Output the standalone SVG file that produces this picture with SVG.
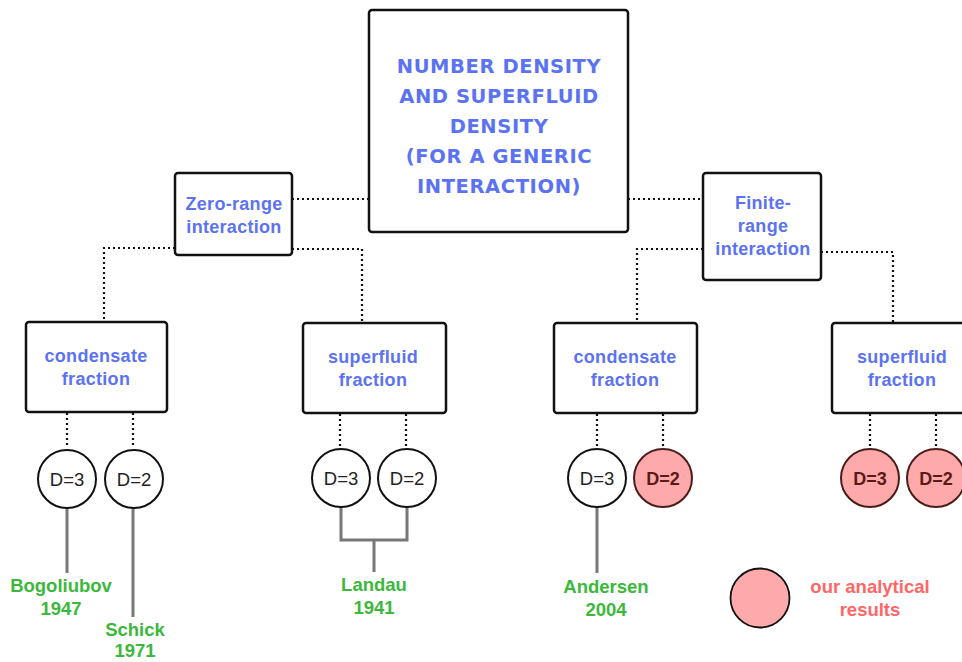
<svg xmlns="http://www.w3.org/2000/svg" width="962" height="662" viewBox="0 0 962 662">
<style>
.box{fill:#fff;stroke:#111;stroke-width:2.5}
.title{font-family:"DejaVu Sans","Liberation Sans",sans-serif;font-weight:bold;font-size:19.5px;fill:#5b73f2;text-anchor:middle;letter-spacing:0.6px}
.lbl{font-family:"Liberation Sans",Arial,sans-serif;font-weight:bold;font-size:18px;fill:#5b73f2;text-anchor:middle;letter-spacing:0.3px}
.dot{fill:none;stroke:#111;stroke-width:2.2;stroke-dasharray:2 3}
.cw{fill:#fff;stroke:#111;stroke-width:2}
.cp{fill:#ffaaaa;stroke:#4a1c1c;stroke-width:2}
.dt{font-family:"Liberation Sans",Arial,sans-serif;font-size:18.5px;fill:#222;text-anchor:middle}
.dp{font-family:"Liberation Sans",Arial,sans-serif;font-weight:bold;font-size:18px;fill:#5a1a1a;text-anchor:middle}
.gl{fill:none;stroke:#777;stroke-width:3}
.green{font-family:"Liberation Sans",Arial,sans-serif;font-weight:bold;font-size:18.5px;fill:#3cb83c;text-anchor:middle}
.red{font-family:"Liberation Sans",Arial,sans-serif;font-weight:bold;font-size:18.5px;fill:#ff6666;text-anchor:middle}
</style>
<rect width="962" height="662" fill="#fff"/>
<g id="connectors">
<path class="dot" d="M292 199H369"/>
<path class="dot" d="M628 199H703"/>
<path class="dot" d="M175 248H104V322"/>
<path class="dot" d="M292 249H362V322"/>
<path class="dot" d="M703 249H637V322"/>
<path class="dot" d="M821 252H893V322"/>
<path class="dot" d="M67 413V448M133 413V448"/>
<path class="dot" d="M340 414V448M406 414V448"/>
<path class="dot" d="M597 414V448M663 414V448"/>
<path class="dot" d="M870 414V448M936 414V448"/>
<path class="gl" d="M67 508V573"/>
<path class="gl" d="M133 508V617"/>
<path class="gl" d="M341 507V540H407V507M374 540V572"/>
<path class="gl" d="M597 507V573"/>
</g>
<g id="main">
<rect class="box" x="369" y="10" width="259" height="222" rx="3"/>
<text class="title" x="499" y="73">NUMBER DENSITY</text>
<text class="title" x="499" y="103">AND SUPERFLUID</text>
<text class="title" x="499" y="133">DENSITY</text>
<text class="title" x="499" y="163">(FOR A GENERIC</text>
<text class="title" x="499" y="193">INTERACTION)</text>
</g>
<g id="zero-range">
<rect class="box" x="175" y="173" width="117" height="82" rx="3"/>
<text class="lbl" x="234" y="210">Zero-range</text>
<text class="lbl" x="234" y="233">interaction</text>
</g>
<g id="finite-range">
<rect class="box" x="703" y="173" width="118" height="107" rx="3"/>
<text class="lbl" x="763" y="209">Finite-</text>
<text class="lbl" x="763" y="232">range</text>
<text class="lbl" x="763" y="255">interaction</text>
</g>
<g id="condensate-1">
<rect class="box" x="26" y="322" width="141" height="90" rx="3"/>
<text class="lbl" x="96" y="362">condensate</text>
<text class="lbl" x="96" y="385">fraction</text>
</g>
<g id="superfluid-1">
<rect class="box" x="303" y="323" width="143" height="90" rx="3"/>
<text class="lbl" x="373" y="363">superfluid</text>
<text class="lbl" x="373" y="386">fraction</text>
</g>
<g id="condensate-2">
<rect class="box" x="554" y="323" width="143" height="90" rx="3"/>
<text class="lbl" x="625" y="363">condensate</text>
<text class="lbl" x="625" y="386">fraction</text>
</g>
<g id="superfluid-2">
<rect class="box" x="832" y="323" width="143" height="90" rx="3"/>
<text class="lbl" x="902" y="363">superfluid</text>
<text class="lbl" x="902" y="386">fraction</text>
</g>
<g id="c1-d3"><circle class="cw" cx="67" cy="479" r="29"/><text class="dt" x="67" y="486">D=3</text></g>
<g id="c1-d2"><circle class="cw" cx="134" cy="479" r="29"/><text class="dt" x="134" y="486">D=2</text></g>
<g id="s1-d3"><circle class="cw" cx="341" cy="478" r="29"/><text class="dt" x="341" y="485">D=3</text></g>
<g id="s1-d2"><circle class="cw" cx="407" cy="478" r="29"/><text class="dt" x="407" y="485">D=2</text></g>
<g id="c2-d3"><circle class="cw" cx="597" cy="478" r="29"/><text class="dt" x="597" y="485">D=3</text></g>
<g id="c2-d2"><circle class="cp" cx="663" cy="478" r="29"/><text class="dp" x="663" y="485">D=2</text></g>
<g id="s2-d3"><circle class="cp" cx="870" cy="478" r="29"/><text class="dp" x="870" y="485">D=3</text></g>
<g id="s2-d2"><circle class="cp" cx="936" cy="478" r="29"/><text class="dp" x="936" y="485">D=2</text></g>
<g id="bogoliubov"><text class="green" x="61" y="592">Bogoliubov</text><text class="green" x="61" y="615">1947</text></g>
<g id="schick"><text class="green" x="135" y="636">Schick</text><text class="green" x="135" y="657">1971</text></g>
<g id="landau"><text class="green" x="374" y="591">Landau</text><text class="green" x="374" y="614">1941</text></g>
<g id="andersen"><text class="green" x="606" y="593">Andersen</text><text class="green" x="606" y="616">2004</text></g>
<g id="legend">
<circle cx="760" cy="598" r="29.5" fill="#ffaaaa" stroke="#111" stroke-width="1.8"/>
<text class="red" x="870" y="593">our analytical</text>
<text class="red" x="870" y="616">results</text>
</g>
</svg>
